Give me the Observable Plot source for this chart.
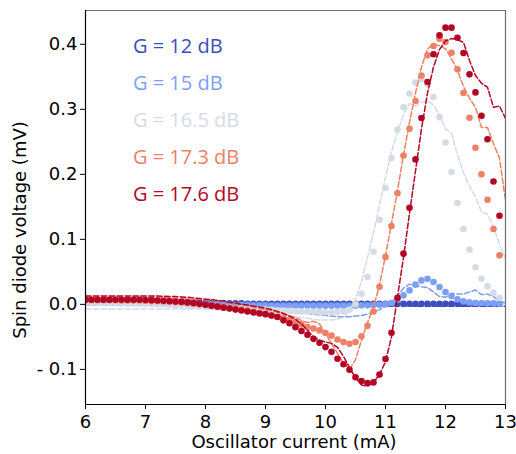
<!DOCTYPE html>
<html>
<head>
<meta charset="utf-8">
<script src="https://cdn.jsdelivr.net/npm/d3@7"></script>
<script src="https://cdn.jsdelivr.net/npm/@observablehq/plot@0.6"></script>
<style>
  html, body { margin: 0; padding: 0; background: #fff; }
  #wrap { position: relative; width: 516px; height: 454px; }
  #legend { position: absolute; left: 133px; top: 27px; font-family: "Open Sans", sans-serif; font-size: 20px; line-height: 37px; white-space: nowrap; }
</style>
</head>
<body>
<div id="wrap"><div id="legend"></div></div>
<script>
// Oscillator current (mA)
const current = [6.0,6.1,6.2,6.3,6.4,6.5,6.6,6.7,6.8,6.9,
  7.0,7.1,7.2,7.3,7.4,7.5,7.6,7.7,7.8,7.9,
  8.0,8.1,8.2,8.3,8.4,8.5,8.6,8.7,8.8,8.9,
  9.0,9.1,9.2,9.3,9.4,9.5,9.6,9.7,9.8,9.9,
  10.0,10.1,10.2,10.3,10.4,10.5,10.6,10.7,10.8,10.9,
  11.0,11.1,11.2,11.3,11.4,11.5,11.6,11.7,11.8,11.9,
  12.0,12.1,12.2,12.3,12.4,12.5,12.6,12.7,12.8,12.9,13.0];

const gains = ["G = 12 dB", "G = 15 dB", "G = 16.5 dB", "G = 17.3 dB", "G = 17.6 dB"];
const colors = ["#3b4cc0", "#7b9ff9", "#d4dbe6", "#ed8066", "#b40426"];

// Measured (dots), 6.0 ... 12.9 mA
const meas12 = [0.006,0.006,0.006,0.006,0.006,0.006,0.0055,0.0055,0.0055,0.005,
  0.005,0.005,0.0045,0.0045,0.004,0.004,0.0035,0.0035,0.003,0.003,
  0.0025,0.0025,0.002,0.002,0.0015,0.0015,0.0015,0.001,0.001,0.001,
  0.001,0.001,0.001,0.001,0.001,0.001,0.001,0.001,0.001,0.001,
  0.001,0.001,0.001,0.001,0.001,0.001,0.001,0.001,0.001,0.001,
  0.001,0.001,0.001,0.001,0.001,0.001,0.001,0.001,0.001,0.001,
  0.001,0.001,0.001,0.001,0.001,0.001,0.001,0.001,0.001,0.001];
const meas15 = [0.004,0.004,0.004,0.004,0.004,0.004,0.0035,0.0035,0.0035,0.003,
  0.003,0.003,0.0025,0.0025,0.002,0.002,0.0015,0.001,0.001,0.0005,
  0.0,0.0,0.0,-0.0005,-0.0005,-0.001,-0.001,-0.001,-0.0015,-0.0015,
  -0.0015,-0.002,-0.002,-0.002,-0.002,-0.002,-0.002,-0.002,-0.002,-0.002,
  -0.002,-0.002,-0.002,-0.002,-0.002,-0.002,-0.0015,-0.0015,-0.001,-0.0005,
  0.0,0.002,0.007,0.0138,0.0215,0.0303,0.0369,0.0395,0.0343,0.0267,
  0.019,0.0128,0.0077,0.0046,0.003,0.002,0.002,0.0015,0.0015,0.001];
const meas165 = [0.002,0.002,0.002,0.002,0.002,0.002,0.0015,0.0015,0.001,0.001,
  0.001,0.0005,0.0,0.0,-0.0005,-0.001,-0.001,-0.0015,-0.002,-0.0025,
  -0.003,-0.0035,-0.004,-0.0045,-0.005,-0.0055,-0.006,-0.0065,-0.007,-0.0075,
  -0.008,-0.0085,-0.009,-0.0095,-0.01,-0.0105,-0.011,-0.011,-0.0115,-0.0115,
  -0.012,-0.012,-0.0115,-0.011,-0.008,0.0,0.0164,0.042,0.081,0.130,
  0.179,0.225,0.269,0.303,0.324,0.341,0.346,0.338,0.319,0.288,
  0.249,0.2035,0.156,0.116,0.084,0.057,0.0395,0.028,0.018,0.0103];
const meas173 = [0.0065,0.0065,0.0065,0.0065,0.0065,0.0065,0.006,0.006,0.006,0.006,
  0.0055,0.005,0.005,0.0045,0.004,0.0035,0.003,0.002,0.001,0.0,
  -0.001,-0.002,-0.003,-0.004,-0.005,-0.006,-0.008,-0.009,-0.011,-0.013,
  -0.015,-0.017,-0.019,-0.021,-0.024,-0.027,-0.031,-0.035,-0.037,-0.040,
  -0.044,-0.048,-0.054,-0.058,-0.0605,-0.058,-0.049,-0.033,-0.011,0.027,
  0.073,0.1205,0.171,0.229,0.27,0.3128,0.352,0.383,0.3974,0.4087,
  0.4036,0.387,0.3615,0.325,0.287,0.241,0.2,0.161,0.116,0.0754];
const meas176 = [0.007,0.007,0.007,0.007,0.007,0.007,0.007,0.007,0.007,0.007,
  0.0068,0.0065,0.006,0.0055,0.005,0.0045,0.004,0.003,0.002,0.001,
  -0.0005,-0.002,-0.0035,-0.005,-0.0065,-0.008,-0.0095,-0.011,-0.0125,-0.014,
  -0.015,-0.017,-0.0195,-0.0246,-0.029,-0.035,-0.041,-0.0467,-0.053,-0.059,
  -0.0657,-0.073,-0.0836,-0.092,-0.1005,-0.112,-0.118,-0.121,-0.12,-0.108,
  -0.084,-0.0436,0.0103,0.078,0.1487,0.223,0.2867,0.342,0.3846,0.4138,
  0.4256,0.4256,0.41,0.3867,0.3538,0.326,0.29,0.254,0.189,0.1364];

// Simulated (dashed lines), 6.0 ... 13.0 mA
const sim12 = [0.004,0.004,0.004,0.004,0.004,0.004,0.004,0.004,0.004,0.004,
  0.0035,0.0035,0.003,0.003,0.003,0.0025,0.0025,0.002,0.002,0.0015,
  0.001,0.001,0.0005,0.0,0.0,-0.0005,-0.0005,-0.001,-0.001,-0.001,
  -0.0015,-0.0015,-0.0015,-0.0015,-0.0015,-0.0015,-0.0015,-0.0015,-0.0015,-0.0015,
  -0.002,-0.002,-0.002,-0.002,-0.002,-0.002,-0.002,-0.002,-0.002,-0.002,
  -0.0025,-0.0025,-0.0025,-0.0025,-0.0025,-0.003,-0.003,-0.003,-0.003,-0.003,
  -0.003,-0.003,-0.003,-0.003,-0.003,-0.003,-0.003,-0.003,-0.003,-0.003,-0.003];
const sim15 = [-0.001,-0.001,-0.001,-0.001,-0.001,-0.001,-0.001,-0.001,-0.001,-0.001,
  -0.001,-0.0015,-0.0015,-0.002,-0.002,-0.0025,-0.003,-0.003,-0.0035,-0.004,
  -0.0045,-0.005,-0.0055,-0.006,-0.0065,-0.007,-0.0075,-0.008,-0.0085,-0.009,
  -0.0095,-0.010,-0.011,-0.011,-0.012,-0.013,-0.013,-0.014,-0.015,-0.016,
  -0.017,-0.018,-0.019,-0.019,-0.019,-0.018,-0.017,-0.015,-0.012,-0.008,
  -0.003,0.003,0.013,0.025,0.031,0.029,0.027,0.026,0.019,0.012,
  0.011,0.017,0.016,0.016,0.019,0.022,0.015,0.016,0.012,0.005,0.002];
const sim165 = [-0.007,-0.007,-0.007,-0.007,-0.007,-0.007,-0.007,-0.007,-0.007,-0.007,
  -0.007,-0.007,-0.007,-0.007,-0.007,-0.007,-0.007,-0.007,-0.007,-0.007,
  -0.007,-0.0075,-0.008,-0.0085,-0.009,-0.009,-0.0095,-0.010,-0.011,-0.012,
  -0.013,-0.014,-0.015,-0.016,-0.017,-0.019,-0.020,-0.021,-0.023,-0.024,
  -0.024,-0.024,-0.023,-0.020,-0.010,0.008,0.035,0.072,0.11,0.152,
  0.196,0.235,0.265,0.292,0.309,0.305,0.311,0.313,0.307,0.29,
  0.27,0.263,0.23,0.202,0.182,0.165,0.142,0.139,0.119,0.093,0.07];
const sim173 = [0.011,0.011,0.011,0.011,0.011,0.011,0.011,0.011,0.011,0.011,
  0.011,0.011,0.0105,0.0105,0.010,0.0095,0.009,0.0085,0.008,0.0075,
  0.007,0.006,0.005,0.004,0.003,0.001,0.0,-0.002,-0.004,-0.006,
  -0.008,-0.010,-0.012,-0.015,-0.018,-0.020,-0.025,-0.028,-0.026,-0.030,
  -0.045,-0.060,-0.075,-0.090,-0.100,-0.085,-0.055,-0.028,-0.005,0.030,
  0.075,0.125,0.175,0.230,0.280,0.325,0.365,0.393,0.400,0.398,
  0.393,0.378,0.36,0.335,0.317,0.303,0.272,0.272,0.247,0.225,0.160];
const sim176 = [0.013,0.013,0.013,0.013,0.013,0.013,0.013,0.013,0.013,0.013,
  0.013,0.013,0.013,0.0125,0.012,0.012,0.0115,0.011,0.010,0.009,
  0.008,0.007,0.006,0.005,0.003,0.002,0.0,-0.001,-0.003,-0.004,
  -0.006,-0.008,-0.011,-0.014,-0.018,-0.023,-0.030,-0.040,-0.050,-0.055,
  -0.058,-0.060,-0.066,-0.080,-0.097,-0.113,-0.124,-0.126,-0.120,-0.108,
  -0.088,-0.050,0.012,0.072,0.14,0.205,0.27,0.325,0.365,0.392,
  0.405,0.409,0.407,0.403,0.375,0.352,0.34,0.334,0.303,0.305,0.286];

const xTicks = [6, 7, 8, 9, 10, 11, 12, 13];
const yTicks = [-0.1, 0.0, 0.1, 0.2, 0.3, 0.4];
const yTickLabels = ["- 0.1", "0.0", "0.1", "0.2", "0.3", "0.4"];
const xDomain = [6, 13];
const yDomain = [-0.154, 0.452];

const measured = [meas12, meas15, meas165, meas173, meas176];
const simulated = [sim12, sim15, sim165, sim173, sim176];

const toRows = (vals) => vals.map((v, i) => ({x: current[i], y: v}));

const marks = [];
measured.forEach((m, k) => {
  marks.push(Plot.dot(toRows(m), {x: "x", y: "y", r: 3.3, fill: colors[k], stroke: "none", clip: true}));
  marks.push(Plot.line(toRows(simulated[k]), {x: "x", y: "y", stroke: colors[k], strokeWidth: 1.5, strokeDasharray: "5.5,2.4", clip: true}));
});
// spines
marks.push(Plot.ruleY([yDomain[1]], {stroke: "#6e6e6e", strokeWidth: 1.2}));
marks.push(Plot.ruleX([xDomain[1]], {stroke: "#6e6e6e", strokeWidth: 1.2}));
marks.push(Plot.ruleX([xDomain[0]], {stroke: "#000", strokeWidth: 1.2}));
marks.push(Plot.ruleY([yDomain[0]], {stroke: "#000", strokeWidth: 1.2}));

const chart = Plot.plot({
  width: 516,
  height: 454,
  marginLeft: 85,
  marginRight: 11,
  marginTop: 10,
  marginBottom: 50,
  style: {fontFamily: "DejaVu Sans", fontSize: "18px", color: "#000", background: "#fff"},
  x: {domain: xDomain, ticks: xTicks, tickSize: 5, tickPadding: 6, label: null, tickFormat: d => String(d)},
  y: {domain: yDomain, ticks: yTicks, tickSize: 5, tickPadding: 3, label: null,
      tickFormat: d => yTickLabels[yTicks.findIndex(t => Math.abs(t - d) < 1e-9)]},
  marks
});

const svg = d3.select(chart);
svg.append("text")
  .attr("x", 294).attr("y", 448)
  .attr("text-anchor", "middle")
  .attr("fill", "#000")
  .attr("font-size", 18)
  .text("Oscillator current (mA)");
svg.append("text")
  .attr("transform", "translate(26,230) rotate(-90)")
  .attr("text-anchor", "middle")
  .attr("fill", "#000")
  .attr("font-size", 18)
  .text("Spin diode voltage (mV)");

const wrap = document.getElementById("wrap");
wrap.insertBefore(chart, wrap.firstChild);

const legend = d3.select("#legend");
gains.forEach((g, k) => {
  legend.append("div").style("color", colors[k]).text(g);
});
</script>
</body>
</html>
